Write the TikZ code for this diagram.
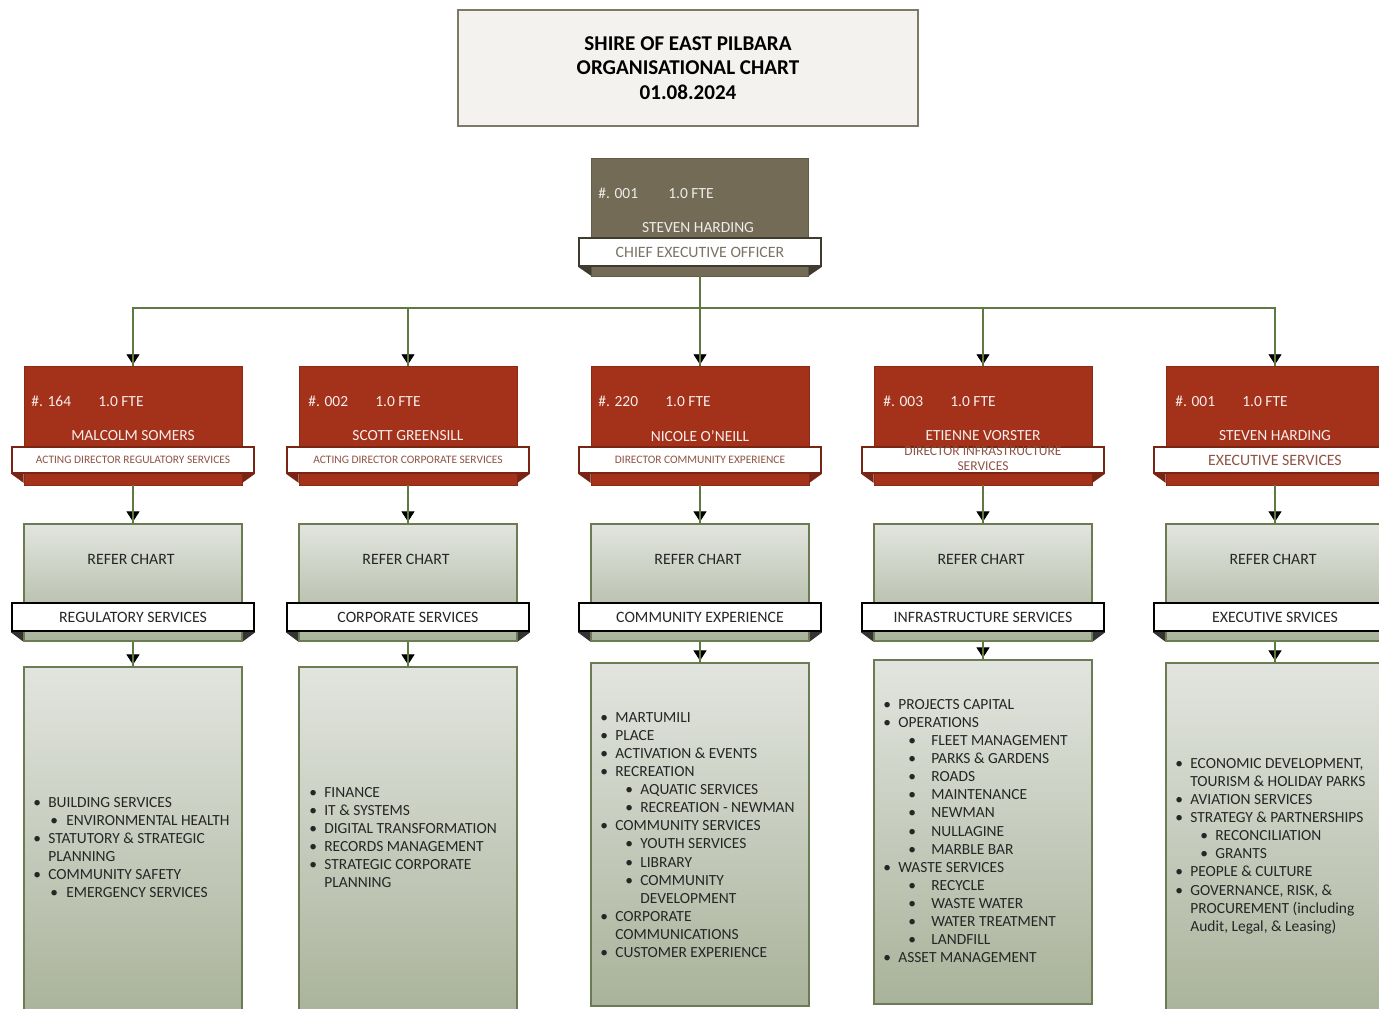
\documentclass[tikz,border=0pt]{standalone}
\usepackage{fontspec}
\setmainfont{Carlito}
\usetikzlibrary{positioning, calc, shapes, arrows.meta, decorations.markings}
\definecolor{ceofill}{HTML}{736B55}
\definecolor{ceotext}{HTML}{7B7464}
\definecolor{dirfill}{HTML}{A4311A}
\definecolor{dirline}{HTML}{7A2414}
\definecolor{roletext}{HTML}{8E5446}
\definecolor{linkgreen}{HTML}{5E7A40}
\definecolor{chartline}{HTML}{6C7B52}
\definecolor{charttop}{HTML}{E2E5DF}
\definecolor{chartbot}{HTML}{A9B29A}
\definecolor{titlefill}{HTML}{F4F2EF}
\definecolor{titleline}{HTML}{7D7966}
\definecolor{listtext}{HTML}{262626}
\tikzstyle{Arrow} = [
%reporting line with arrow at the end:
line width=1.1pt, linkgreen,
decoration={
markings,
mark=at position 1 with {
\arrow{Triangle[width=0.3cm,length=0.24cm]}
}
},
preaction = {decorate}
]
\newcommand{\itm}[1]{\makebox[0.3cm][l]{\textbullet}#1}
\newcommand{\contline}[1]{\hspace*{0.3cm}#1}
\newcommand{\subitm}[3]{\hspace*{#1}\makebox[#2][l]{\textbullet}#3}
\newcommand{\bannertabs}[3]{%
\fill[#3] (#1.south west) -- (#1.south west -| #2.west) -- ++(0,9) -- cycle;
\fill[#3] (#1.south east) -- (#1.south east -| #2.east) -- ++(0,9) -- cycle;}

\begin{document}
\begin{tikzpicture}[x=0.02cm, y=-0.02cm,
		heading/.style = {rectangle, fill=titlefill, draw=titleline, line width=1.4pt, minimum width=9.2cm, minimum height=2.32cm, align=center, font=\fontsize{12}{13.9}\selectfont\bfseries},
		ceobox/.style = {rectangle, fill=ceofill, draw=ceofill!85!black, minimum width=4.34cm, minimum height=2.36cm, inner sep=0},
		dirbox/.style = {rectangle, fill=dirfill, draw=dirfill!85!black, minimum width=4.36cm, minimum height=2.38cm, inner sep=0},
		role/.style = {rectangle, fill=white, draw=dirline, line width=1pt, minimum width=4.84cm, minimum height=0.52cm, inner sep=0, text=roletext},
		fte/.style = {anchor=west, inner sep=0, text=white!92!dirfill, font=\fontsize{8.8}{10}\selectfont},
		holder/.style = {inner sep=0, text=white!92!dirfill, font=\fontsize{8.8}{10}\selectfont},
		chart/.style = {rectangle, top color=charttop, bottom color=chartbot, draw=chartline, line width=1.4pt, minimum width=4.36cm, inner sep=0},
		unitband/.style = {rectangle, fill=white, draw=black, line width=1.4pt, minimum width=4.84cm, minimum height=0.56cm, inner sep=0, text=listtext, font=\fontsize{9}{10}\selectfont},
		refer/.style = {inner sep=0, text=listtext, font=\fontsize{9}{10}\selectfont},
		duties/.style = {anchor=north west, align=left, inner sep=0, text=listtext, font=\fontsize{8.8}{10.3}\selectfont},
	]
	\useasboundingbox (0,0) rectangle (1379,1008);
	\clip (0,0) rectangle (1379,1008);

	\node[heading] (title) at (688,68) {SHIRE OF EAST PILBARA\\ORGANISATIONAL CHART\\01.08.2024};

	% chief executive
	\node[ceobox] (ceo) at (700,217) {};
	\node[fte, text=ceofill!12!white] (ceofte) at (598,193) {\makebox[1.4cm][l]{\#. 001}1.0 FTE};
	\node[holder, text=ceofill!12!white] (ceoname) at (698,228) {STEVEN HARDING};
	\node[role, draw=ceofill!55!black, text=ceotext, minimum height=0.56cm, font=\fontsize{9}{10}\selectfont] (ceorole) at (700,252) {CHIEF EXECUTIVE OFFICER};
	\bannertabs{ceorole}{ceo}{ceofill!55!black}

	% directors
	\node[dirbox] (d1) at (133,425.5) {};
	\node[fte] (f1) at (31,401) {\makebox[1.34cm][l]{\#. 164}1.0 FTE};
	\node[holder] (h1) at (133,436) {MALCOLM SOMERS};
	\node[role, font=\fontsize{6.5}{7}\selectfont] (rl1) at (133,460) {ACTING DIRECTOR REGULATORY SERVICES};
	\bannertabs{rl1}{d1}{dirline}

	\node[dirbox] (d2) at (408,425.5) {};
	\node[fte] (f2) at (308,401) {\makebox[1.34cm][l]{\#. 002}1.0 FTE};
	\node[holder] (h2) at (408,436) {SCOTT GREENSILL};
	\node[role, font=\fontsize{6.5}{7}\selectfont] (rl2) at (408,460) {ACTING DIRECTOR CORPORATE SERVICES};
	\bannertabs{rl2}{d2}{dirline}

	\node[dirbox] (d3) at (700,425.5) {};
	\node[fte] (f3) at (598,401) {\makebox[1.34cm][l]{\#. 220}1.0 FTE};
	\node[holder] (h3) at (700,436) {NICOLE O'NEILL};
	\node[role, font=\fontsize{6.5}{7}\selectfont] (rl3) at (700,460) {DIRECTOR COMMUNITY EXPERIENCE};
	\bannertabs{rl3}{d3}{dirline}

	\node[dirbox] (d4) at (983,425.5) {};
	\node[fte] (f4) at (883,401) {\makebox[1.34cm][l]{\#. 003}1.0 FTE};
	\node[holder] (h4) at (983,436) {ETIENNE VORSTER};
	\node[role] (rl4) at (983,460) {};
	\node[inner sep=0, align=center, text=roletext, font=\fontsize{7.7}{8.5}\selectfont] (rt4) at (983,459) {DIRECTOR INFRASTRUCTURE\\SERVICES};
	\bannertabs{rl4}{d4}{dirline}

	\node[dirbox] (d5) at (1275,425.5) {};
	\node[fte] (f5) at (1175,401) {\makebox[1.34cm][l]{\#. 001}1.0 FTE};
	\node[holder] (h5) at (1275,436) {STEVEN HARDING};
	\node[role, font=\fontsize{9}{10}\selectfont] (rl5) at (1275,460) {EXECUTIVE SERVICES};
	\bannertabs{rl5}{d5}{dirline}

	% refer chart boxes
	\node[chart, minimum height=2.34cm] (r1) at (133,582.5) {};
	\node[refer] (rc1) at (131,559) {REFER CHART};
	\node[unitband] (u1) at (133,617) {REGULATORY SERVICES};
	\bannertabs{u1}{r1}{black!80}

	\node[chart, minimum height=2.34cm] (r2) at (408,582.5) {};
	\node[refer] (rc2) at (406,559) {REFER CHART};
	\node[unitband] (u2) at (408,617) {CORPORATE SERVICES};
	\bannertabs{u2}{r2}{black!80}

	\node[chart, minimum height=2.34cm] (r3) at (700,582.5) {};
	\node[refer] (rc3) at (698,559) {REFER CHART};
	\node[unitband] (u3) at (700,617) {COMMUNITY EXPERIENCE};
	\bannertabs{u3}{r3}{black!80}

	\node[chart, minimum height=2.34cm] (r4) at (983,582.5) {};
	\node[refer] (rc4) at (981,559) {REFER CHART};
	\node[unitband] (u4) at (983,617) {INFRASTRUCTURE SERVICES};
	\bannertabs{u4}{r4}{black!80}

	\node[chart, minimum height=2.34cm] (r5) at (1275,582.5) {};
	\node[refer] (rc5) at (1273,559) {REFER CHART};
	\node[unitband] (u5) at (1275,617) {EXECUTIVE SRVICES};
	\bannertabs{u5}{r5}{black!80}

	% service lists
	\node[chart, minimum height=7.06cm] (l1) at (133,843.5) {};
	\node[duties] (t1) at (33,797) {\itm{BUILDING SERVICES}\\
		\subitm{0.34cm}{0.32cm}{ENVIRONMENTAL HEALTH}\\
		\itm{STATUTORY \& STRATEGIC}\\
		\contline{PLANNING}\\
		\itm{COMMUNITY SAFETY}\\
		\subitm{0.34cm}{0.32cm}{EMERGENCY SERVICES}};

	\node[chart, minimum height=7.06cm] (l2) at (408,843.5) {};
	\node[duties] (t2) at (309,787) {\itm{FINANCE}\\
		\itm{IT \& SYSTEMS}\\
		\itm{DIGITAL TRANSFORMATION}\\
		\itm{RECORDS MANAGEMENT}\\
		\itm{STRATEGIC CORPORATE}\\
		\contline{PLANNING}};

	\node[chart, minimum height=6.86cm] (l3) at (700,834.5) {};
	\node[duties] (t3) at (600,712) {\itm{MARTUMILI}\\
		\itm{PLACE}\\
		\itm{ACTIVATION \& EVENTS}\\
		\itm{RECREATION}\\
		\subitm{0.5cm}{0.3cm}{AQUATIC SERVICES}\\
		\subitm{0.5cm}{0.3cm}{RECREATION - NEWMAN}\\
		\itm{COMMUNITY SERVICES}\\
		\subitm{0.5cm}{0.3cm}{YOUTH SERVICES}\\
		\subitm{0.5cm}{0.3cm}{LIBRARY}\\
		\subitm{0.5cm}{0.3cm}{COMMUNITY}\\
		\hspace*{0.8cm}DEVELOPMENT\\
		\itm{CORPORATE}\\
		\contline{COMMUNICATIONS}\\
		\itm{CUSTOMER EXPERIENCE}};

	\node[chart, minimum height=6.88cm] (l4) at (983,832) {};
	\node[duties] (t4) at (883,699) {\itm{PROJECTS CAPITAL}\\
		\itm{OPERATIONS}\\
		\subitm{0.5cm}{0.46cm}{FLEET MANAGEMENT}\\
		\subitm{0.5cm}{0.46cm}{PARKS \& GARDENS}\\
		\subitm{0.5cm}{0.46cm}{ROADS}\\
		\subitm{0.5cm}{0.46cm}{MAINTENANCE}\\
		\subitm{0.5cm}{0.46cm}{NEWMAN}\\
		\subitm{0.5cm}{0.46cm}{NULLAGINE}\\
		\subitm{0.5cm}{0.46cm}{MARBLE BAR}\\
		\itm{WASTE SERVICES}\\
		\subitm{0.5cm}{0.46cm}{RECYCLE}\\
		\subitm{0.5cm}{0.46cm}{WASTE WATER}\\
		\subitm{0.5cm}{0.46cm}{WATER TREATMENT}\\
		\subitm{0.5cm}{0.46cm}{LANDFILL}\\
		\itm{ASSET MANAGEMENT}};

	\node[chart, minimum height=7.14cm] (l5) at (1275,841.5) {};
	\node[duties] (t5) at (1175,758) {\itm{ECONOMIC DEVELOPMENT,}\\
		\contline{TOURISM \& HOLIDAY PARKS}\\
		\itm{AVIATION SERVICES}\\
		\itm{STRATEGY \& PARTNERSHIPS}\\
		\subitm{0.5cm}{0.3cm}{RECONCILIATION}\\
		\subitm{0.5cm}{0.3cm}{GRANTS}\\
		\itm{PEOPLE \& CULTURE}\\
		\itm{GOVERNANCE, RISK, \&}\\
		\contline{PROCUREMENT (including}\\
		\contline{Audit, Legal, \& Leasing)}};

	% reporting lines
	\coordinate (bus) at (700,308);
	\draw[Arrow](ceo.south)--(d3.north);
	\draw[Arrow](bus)-|(d1.north);
	\draw[Arrow](bus)-|(d2.north);
	\draw[Arrow](bus)-|(d4.north);
	\draw[Arrow](bus)-|(d5.north);

	\draw[Arrow](d1.south)--(r1.north);
	\draw[Arrow](d2.south)--(r2.north);
	\draw[Arrow](d3.south)--(r3.north);
	\draw[Arrow](d4.south)--(r4.north);
	\draw[Arrow](d5.south)--(r5.north);

	\draw[Arrow](r1.south)--(l1.north);
	\draw[Arrow](r2.south)--(l2.north);
	\draw[Arrow](r3.south)--(l3.north);
	\draw[Arrow](r4.south)--(l4.north);
	\draw[Arrow](r5.south)--(l5.north);

\end{tikzpicture}
\end{document}
